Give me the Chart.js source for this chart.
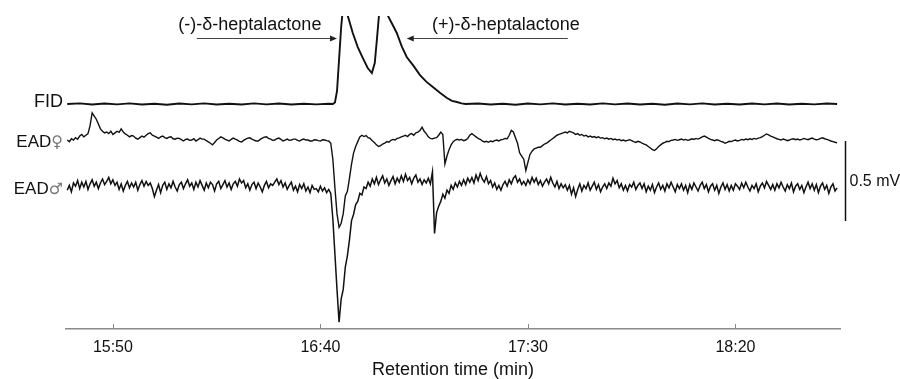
<!DOCTYPE html>
<html>
<head>
<meta charset="utf-8">
<script src="https://cdn.jsdelivr.net/npm/chart.js@4.4.0/dist/chart.umd.min.js"></script>
<style>
  html, body { margin: 0; padding: 0; background: #fff; }
  #wrap { width: 900px; height: 379px; }
</style>
</head>
<body>
<div id="wrap"><canvas id="chart" width="900" height="379"></canvas></div>
<script>
// retention time ticks (seconds) and labels (min:sec)
const tickSeconds = [950, 1000, 1050, 1100];
const tickLabels = ['15:50', '16:40', '17:30', '18:20'];

// FID trace, relative response (same units as mV scale)
const fidTimes = [
  939, 942, 945, 948, 951, 954, 957, 960, 963, 966, 969, 972, 975, 978, 981, 984, 987, 990, 993, 996, 999, 1002,
  1003, 1003.5, 1004, 1004.5, 1005, 1005.5, 1006, 1006.5, 1007.8, 1009, 1010.2, 1011.4, 1012.4, 1013.1, 1013.6, 1014.1,
  1015, 1015.8, 1016.3, 1017.3, 1018.4, 1019.6, 1020.8, 1022.4, 1024, 1025.5, 1027.1, 1028.8, 1030.5, 1031.7, 1032.9, 1034, 1035,
  1038, 1041, 1044, 1047, 1050, 1053, 1056, 1059, 1062, 1065, 1068, 1071, 1074, 1077, 1080, 1083, 1086, 1089, 1092, 1095,
  1098, 1101, 1104, 1107, 1110, 1113, 1116, 1119, 1122, 1124.5
];
const fidValues = [
  0, 0.004, -0.003, 0.003, -0.002, 0.004, -0.003, 0.002, -0.004, 0.003, -0.002, 0.004, -0.003, 0.002, -0.003, 0.004, -0.002, 0.003, -0.003, 0.002, -0.002, 0.002,
  0, 0.01, 0.08, 0.28, 0.48, 0.62, 0.68, 0.56, 0.444, 0.356, 0.288, 0.225, 0.194, 0.256, 0.4, 0.55,
  0.85, 0.8, 0.55, 0.5, 0.444, 0.36, 0.294, 0.24, 0.181, 0.14, 0.106, 0.07, 0.0375, 0.02, 0.0125, 0.004, 0,
  0.003, -0.003, 0.002, -0.004, 0.003, -0.002, 0.004, -0.003, 0.002, -0.003, 0.004, -0.002, 0.003, -0.003, 0.002,
  -0.004, 0.003, -0.002, 0.004, -0.003, 0.002, -0.003, 0.003, -0.002, 0.003, -0.003, 0.002, -0.002, 0.003, 0
];

// EAD traces, µV, sampled every 0.5 s from 939 s
const eadStart = 939;
const eadStep = 0.5;
const eadFemale = [
  0, -10, 8, 0, 15, 5, 25, 35, 20, 30, 40, 90, 170, 150, 130, 100, 70, 55, 45, 50,
  40, 55, 35, 45, 55, 48, 70, 50, 38, 30, 20, 28, 25, 12, 5, 15, 25, 18, 30, 40,
  45, 30, 25, 18, 10, 20, 25, 15, 10, 18, 20, 8, 5, 12, 10, 2, -6, 4, 6, -2,
  0, 8, -6, 2, 12, 6, 6, -4, -12, -20, -30, -15, 0, 10, 20, 14, 6, 0, -6, 4,
  12, 6, 0, -8, -12, -2, 6, 12, 14, 6, 0, -6, -6, 4, 12, 18, 20, 10, 6, -2,
  0, 8, 12, 4, -6, 0, 6, -2, 0, 6, 6, -2, -6, 2, 6, 0, 0, -6, -6, 2,
  0, -4, -6, 2, 0, -4, -6, -20, -120, -300, -460, -545, -520, -460, -350, -320, -240, -150, -80, -40,
  -10, 20, 30, 22, 28, 15, 10, -5, -15, -30, -40, -35, -25, -20, -10, -14, -2, 4, 0, 10,
  14, 20, 25, 30, 22, 35, 40, 30, 45, 50, 60, 80, 55, 40, 20, 10, 8, 12, 15, 30,
  50, 35, -150, -100, -60, -30, -10, 0, 5, 0, 4, -4, 0, 10, 30, 40, 30, 20, 10, 5,
  -6, -12, -8, -14, -6, -10, -4, 0, -6, 2, 4, 10, 8, 30, 60, 50, 15, -20, -80, -100,
  -120, -190, -140, -90, -70, -55, -50, -45, -45, -35, -25, -20, -10, 0, 10, 20, 30, 35, 40, 45,
  50, 45, 55, 50, 45, 35, 40, 30, 35, 25, 30, 20, 25, 18, 22, 15, 20, 12, 15, 8,
  12, 5, 10, 2, 6, 0, 4, -4, 0, -6, -2, 2, -4, -10, -15, -8, -12, -20, -25, -30,
  -40, -50, -60, -65, -55, -40, -30, -20, -15, -8, -10, -2, 0, 4, -2, 2, 6, 0, 4, -2,
  2, 8, 4, 10, 6, 12, 20, 25, 18, 10, 4, 0, -4, 2, -2, -8, -12, -20, -15, -8,
  -10, -4, 0, -6, -2, 4, 0, 6, 2, 8, 4, 10, 6, 12, 15, 22, 30, 38, 32, 25,
  20, 14, 8, 4, 0, 6, 2, -4, 0, 6, 8, 2, 6, 0, 4, 10, 6, 2, 8, 12,
  6, 2, 4, 10, 14, 8, 4, 0, -6, -10, -14, -18
];
const eadMale = [
  -20, 10, -30, 25, 5, 40, -10, 30, 0, 35, -15, 20, 45, 5, 30, -10, 25, 50, 15, 35,
  60, 20, 45, 10, 30, -15, 20, -25, 10, 35, -5, 25, 0, 30, -20, 15, 40, 5, 35, 10,
  25, -10, -60, -20, 15, -35, 10, 30, -15, 20, -5, 35, 0, -25, 15, 30, -10, 20, 45, 5,
  25, -15, 30, 0, 40, 10, -20, 25, -5, 30, 15, -25, 20, 35, -10, 15, 40, 0, 25, -15,
  20, 35, 5, 50, 25, 40, -5, 20, -20, 15, 30, -10, 25, 0, -30, 10, 35, -5, 20, 10,
  30, 50, 15, 40, 0, 25, -15, 10, 30, -20, 5, -30, 15, -10, 20, -25, 0, -35, 10, -15,
  -10, -30, 5, -25, -5, -35, -15, -40, -200, -420, -640, -845, -700, -640, -500, -430, -330, -210, -170, -110,
  -90, -40, -50, 0, -10, 30, 5, 50, 20, 60, 15, 45, 70, 25, 50, 10, 40, 65, 20, 55,
  30, 70, 35, 80, 40, 60, 20, 55, 75, 30, 50, 15, 45, 25, 55, 20, 95, -290, -160, -120,
  -90, -45, -70, -20, -40, 10, -15, 25, 0, 35, 10, 45, 15, 55, 30, 60, 25, 75, 40, 85,
  50, 30, 65, 20, 40, 0, 25, -15, 10, -20, 15, 35, 5, 45, 20, 55, 70, 30, 50, 15,
  35, 10, 45, 20, 60, 30, 55, 15, 40, 5, 30, 50, 20, 60, 25, 0, 35, -10, 20, -5,
  15, -20, 10, -45, -5, -60, -15, 20, -25, 10, -10, 25, -20, 5, 30, -15, 15, -30, 0, 20,
  -10, 25, 5, 55, 20, 40, -5, 20, -20, 10, -25, 15, 0, 30, -15, 10, 25, -10, 20, -30,
  5, -20, 15, -35, 0, 25, -15, 10, -25, 20, -5, 30, 0, -30, 15, -10, 20, -20, 10, -35,
  15, -15, 25, 0, -25, 10, 30, -10, 15, -30, 5, 20, -20, 10, -40, 0, 25, -15, 15, -25,
  10, -20, 20, 5, -15, 25, -5, 30, 0, -25, 10, -10, 20, -30, 5, 25, -5, 35, 10, -15,
  15, -20, 20, -5, 30, 0, -25, 15, -10, 25, -30, 5, 20, -15, 10, -35, 0, 30, -10, 20,
  -20, 15, -35, 5, 25, -15, 10, -40, 0, 20, -25, -5
];

// vertical stacking of the traces (mV on the shared axis)
const fidOffset = 1.406;
const femaleOffset = 1.181;
const maleOffset = 0.8875;

const ink = '#111';
const axisGrey = '#8a8a8a';
const fontFamily = '"Liberation Sans", Arial, sans-serif';
Chart.defaults.font.family = fontFamily;
Chart.defaults.color = ink;

const fidData = fidTimes.map((t, i) => ({ x: t, y: fidOffset + fidValues[i] }));
function eadPoints(values, offset) {
  return values.map((v, i) => ({ x: eadStart + i * eadStep, y: offset + v / 1000 }));
}

// labels, arrows and scale bar in data units
const traceLabels = [
  { name: 'FID', sign: '', offset: fidOffset, dy: -2, size: 18 },
  { name: 'EAD', sign: '\u2640', offset: femaleOffset, dy: 2, size: 17 },
  { name: 'EAD', sign: '\u2642', offset: maleOffset, dy: 2, size: 17 }
];
const compoundNotes = [
  { text: '(-)-\u03b4-heptalactone', at: 983, from: 970.2, to: 1004.0 },
  { text: '(+)-\u03b4-heptalactone', at: 1044.7, from: 1059.6, to: 1020.8 }
];
const scaleBar = { time: 1126.4, bottom: 0.675, size: 0.5, label: '0.5 mV' };

const overlay = {
  id: 'overlay',
  afterDraw(chart) {
    const { ctx, scales: { x, y } } = chart;
    ctx.save();
    ctx.fillStyle = ink;
    ctx.strokeStyle = ink;
    ctx.textBaseline = 'middle';

    // tick marks point up into the plot
    ctx.strokeStyle = axisGrey;
    ctx.lineWidth = 1;
    tickSeconds.forEach(v => {
      const px = Math.round(x.getPixelForValue(v)) + 0.5;
      ctx.beginPath();
      ctx.moveTo(px, x.top);
      ctx.lineTo(px, x.top - 5);
      ctx.stroke();
    });

    // trace names
    traceLabels.forEach(l => {
      const py = y.getPixelForValue(l.offset) + l.dy;
      let right = x.left - 3;
      ctx.textAlign = 'right';
      if (l.sign) {
        ctx.font = '16px "DejaVu Sans", sans-serif';
        ctx.fillStyle = '#777';
        ctx.fillText(l.sign, right, py + 1);
        right -= ctx.measureText(l.sign).width;
      }
      ctx.fillStyle = ink;
      ctx.font = l.size + 'px ' + fontFamily;
      ctx.fillText(l.name, right, py);
    });

    // compound annotations with arrows
    ctx.font = '18px ' + fontFamily;
    ctx.textAlign = 'center';
    compoundNotes.forEach(n => {
      ctx.fillStyle = ink;
      ctx.fillText(n.text, x.getPixelForValue(n.at), y.getPixelForValue(1.9));
      const ay = Math.round(y.getPixelForValue(1.82)) + 0.5;
      const x0 = x.getPixelForValue(n.from);
      const x1 = x.getPixelForValue(n.to);
      const dir = Math.sign(x1 - x0);
      ctx.strokeStyle = '#444';
      ctx.lineWidth = 1;
      ctx.beginPath();
      ctx.moveTo(x0, ay);
      ctx.lineTo(x1 - dir * 5, ay);
      ctx.stroke();
      ctx.fillStyle = '#222';
      ctx.beginPath();
      ctx.moveTo(x1, ay);
      ctx.lineTo(x1 - dir * 7, ay - 3);
      ctx.lineTo(x1 - dir * 7, ay + 3);
      ctx.closePath();
      ctx.fill();
    });

    // scale bar
    const bx = Math.round(x.getPixelForValue(scaleBar.time)) + 0.5;
    const yTop = y.getPixelForValue(scaleBar.bottom + scaleBar.size);
    const yBot = y.getPixelForValue(scaleBar.bottom);
    ctx.strokeStyle = ink;
    ctx.lineWidth = 1.5;
    ctx.beginPath();
    ctx.moveTo(bx, yTop);
    ctx.lineTo(bx, yBot);
    ctx.stroke();
    ctx.fillStyle = ink;
    ctx.font = '16px ' + fontFamily;
    ctx.textAlign = 'left';
    ctx.fillText(scaleBar.label, bx + 4, (yTop + yBot) / 2 + 1);
    ctx.restore();
  }
};

new Chart(document.getElementById('chart'), {
  type: 'line',
  data: {
    datasets: [
      { label: 'FID', data: fidData, borderColor: ink, borderWidth: 1.9, pointRadius: 0, tension: 0 },
      { label: 'EAD female', data: eadPoints(eadFemale, femaleOffset), borderColor: ink, borderWidth: 1.4, pointRadius: 0, tension: 0 },
      { label: 'EAD male', data: eadPoints(eadMale, maleOffset), borderColor: ink, borderWidth: 1.5, pointRadius: 0, tension: 0 }
    ]
  },
  options: {
    responsive: false,
    animation: false,
    devicePixelRatio: 1,
    layout: { padding: { left: 66, right: 60, top: 16, bottom: 0 } },
    plugins: { legend: { display: false }, tooltip: { enabled: false } },
    scales: {
      x: {
        type: 'linear',
        min: 938.7,
        max: 1125.2,
        afterBuildTicks: s => { s.ticks = tickSeconds.map(v => ({ value: v })); },
        afterFit: s => { s.height = 50; },
        ticks: {
          padding: 1,
          maxRotation: 0,
          font: { size: 16 },
          color: ink,
          callback: v => tickLabels[tickSeconds.indexOf(v)]
        },
        grid: { display: false },
        border: { display: true, color: axisGrey, width: 1.5 },
        title: { display: true, text: 'Retention time (min)', font: { size: 18 }, color: ink, padding: { top: 0, bottom: -2 } }
      },
      y: { display: false, min: 0, max: 1.95625 }
    }
  },
  plugins: [overlay]
});
</script>
</body>
</html>
